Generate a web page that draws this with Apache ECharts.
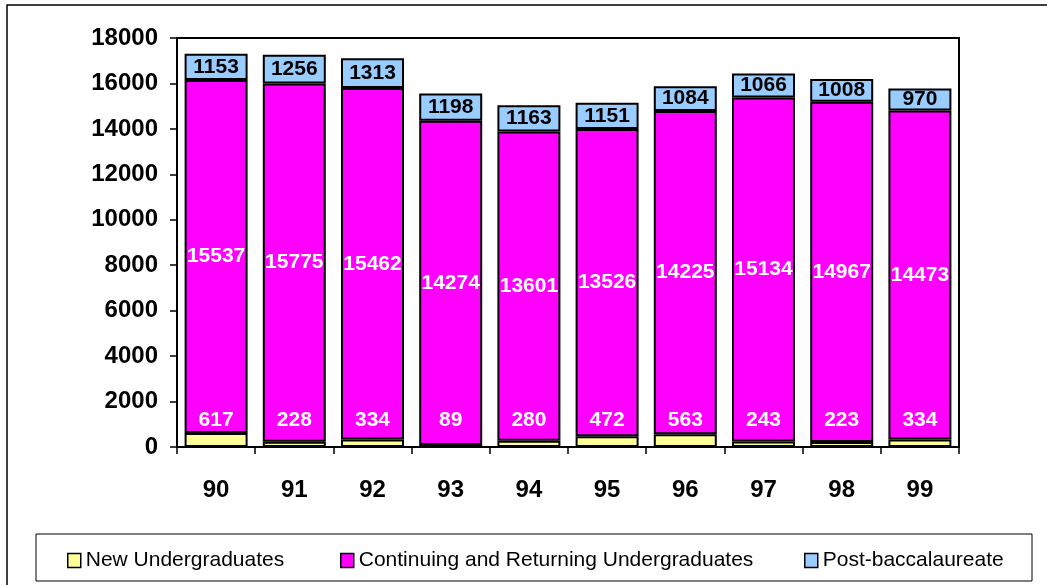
<!DOCTYPE html>
<html>
<head>
<meta charset="utf-8">
<script src="https://cdn.jsdelivr.net/npm/echarts@6/dist/echarts.min.js"></script>
<style>html,body{margin:0;padding:0;background:#fff}#c{width:1047px;height:585px}</style>
</head>
<body>
<div id="c"></div>
<script>
const categories = ['90','91','92','93','94','95','96','97','98','99'];
const newUndergrad = [617,228,334,89,280,472,563,243,223,334];
const contUndergrad = [15537,15775,15462,14274,13601,13526,14225,15134,14967,14473];
const postBacc = [1153,1256,1313,1198,1163,1151,1084,1066,1008,970];
const seriesNames = ['New Undergraduates','Continuing and Returning Undergraduates','Post-baccalaureate'];
const yTicks = {min:0, max:18000, interval:2000};

const FONT = '"Liberation Sans", Arial, sans-serif';
const chart = echarts.init(document.getElementById('c'));
const barW = 63;
const common = {type:'bar', stack:'total', barWidth:barW, itemStyle:{borderColor:'#000', borderWidth:2}};
const legendBase = (name, left) => ({
  data:[name], left:left, top:550, padding:0, itemWidth:13, itemHeight:14, itemGap:5,
  icon:'rect', selectedMode:false,
  itemStyle:{borderColor:'#000', borderWidth:1.5},
  textStyle:{fontFamily:FONT, fontSize:21, color:'#000'}
});
chart.setOption({
  animation:false,
  backgroundColor:'#fff',
  textStyle:{fontFamily:FONT},
  graphic:[
    {type:'rect', shape:{x:7, y:5, width:1100, height:620}, style:{fill:'none', stroke:'#000', lineWidth:1.5}, silent:true, z:-1},
    {type:'rect', shape:{x:36, y:534, width:996, height:47}, style:{fill:'none', stroke:'#000', lineWidth:1}, silent:true, z:-1}
  ],
  legend:[legendBase(seriesNames[0],67), legendBase(seriesNames[1],340), legendBase(seriesNames[2],804)],
  grid:{left:177, right:88, top:38, bottom:138, show:true, borderColor:'#000', borderWidth:2, backgroundColor:'transparent'},
  xAxis:{type:'category', data:categories,
    axisLine:{lineStyle:{color:'#000', width:2}},
    axisTick:{show:true, length:7, lineStyle:{color:'#000', width:1.5}},
    axisLabel:{color:'#000', fontSize:24, fontWeight:'bold', margin:31, fontFamily:FONT}},
  yAxis:{type:'value', min:yTicks.min, max:yTicks.max, interval:yTicks.interval,
    splitLine:{show:false},
    axisLine:{show:true, lineStyle:{color:'#000', width:2}},
    axisTick:{show:true, length:7, lineStyle:{color:'#000', width:1.5}},
    axisLabel:{color:'#000', fontSize:24, fontWeight:'bold', margin:19, fontFamily:FONT, formatter:v => String(v)}},
  series:[
    Object.assign({}, common, {name:seriesNames[0], data:newUndergrad, itemStyle:Object.assign({}, common.itemStyle, {color:'#FFFF99'}),
      label:{show:true, position:'insideBottom', distance:5, offset:[0,-11], color:'#fff', fontSize:21, fontWeight:'bold', fontFamily:FONT}}),
    Object.assign({}, common, {name:seriesNames[1], data:contUndergrad, itemStyle:Object.assign({}, common.itemStyle, {color:'#FF00FF'}),
      label:{show:true, position:'inside', color:'#fff', fontSize:21, fontWeight:'bold', fontFamily:FONT}}),
    Object.assign({}, common, {name:seriesNames[2], data:postBacc, itemStyle:Object.assign({}, common.itemStyle, {color:'#99CCFF'}),
      label:{show:true, position:'inside', color:'#000', fontSize:21, fontWeight:'bold', fontFamily:FONT}})
  ]
});
</script>
</body>
</html>
